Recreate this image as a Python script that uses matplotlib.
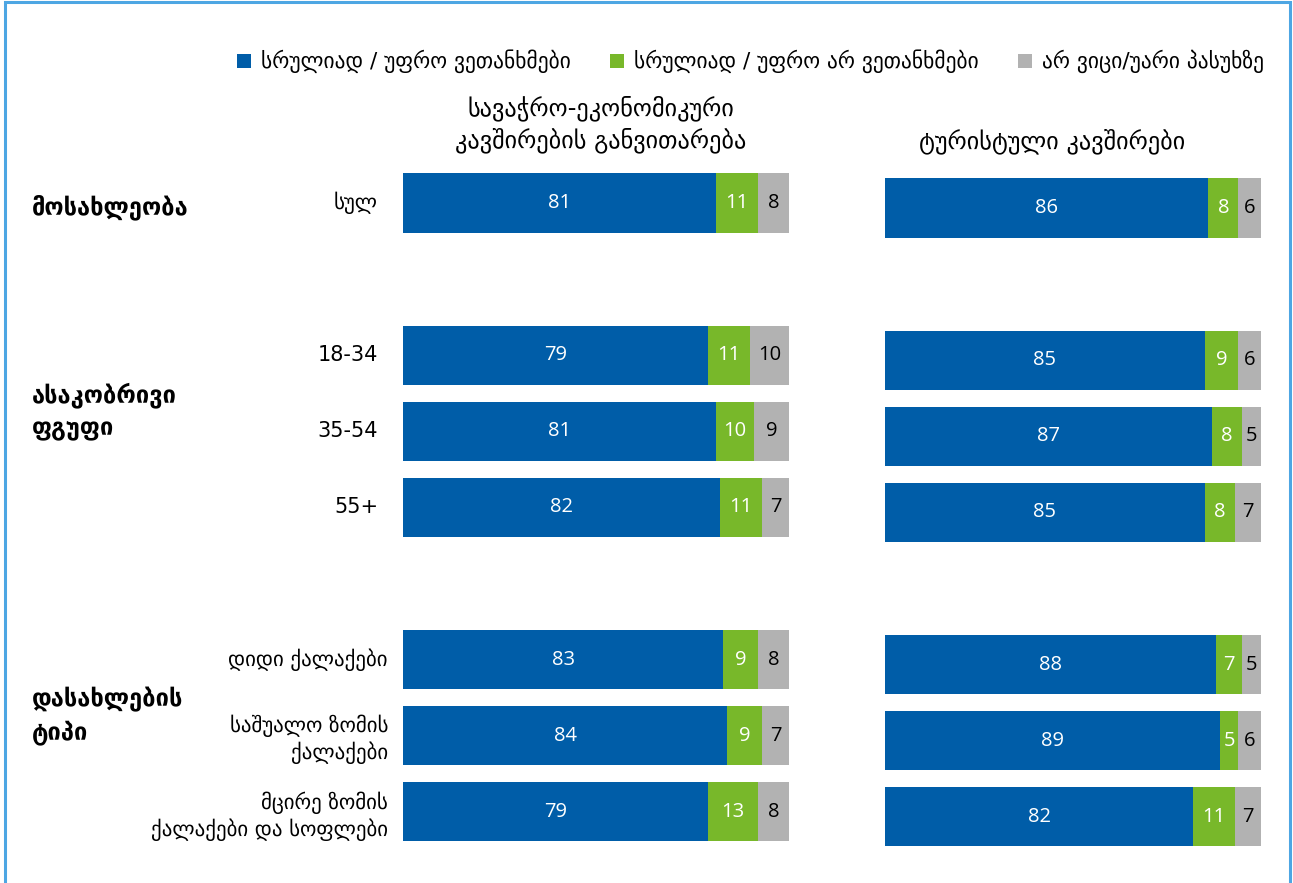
import matplotlib
matplotlib.use("Agg")
import matplotlib.pyplot as plt
from matplotlib.patches import Rectangle
import numpy as np

# ---------------- data ----------------
series_names = ["სრულიად / უფრო ვეთანხმები",
                "სრულიად / უფრო არ ვეთანხმები",
                "არ ვიცი/უარი პასუხზე"]
panel_titles = ["სავაჭრო-ეკონომიკური\nკავშირების განვითარება",
                "ტურისტული კავშირები"]
group_names = ["მოსახლეობა", "ასაკობრივი\nფგუფი", "დასახლების\nტიპი"]
group_sizes = [1, 3, 3]
categories = ["სულ", "18-34", "35-54", "55+",
              "დიდი ქალაქები", "საშუალო ზომის\nქალაქები",
              "მცირე ზომის\nქალაქები და სოფლები"]

econ_agree = [81, 79, 81, 82, 83, 84, 79]
econ_disagree = [11, 11, 10, 11, 9, 9, 13]
econ_dk = [8, 10, 9, 7, 8, 7, 8]

tour_agree = [86, 85, 87, 85, 88, 89, 82]
tour_disagree = [8, 9, 8, 8, 7, 5, 11]
tour_dk = [6, 6, 5, 7, 5, 6, 7]

# ---------------- style ----------------
BLUE = "#005DA8"
GREEN = "#78B82A"
GRAY = "#B2B2B2"
BORDER = "#4DA6E3"
colors = [BLUE, GREEN, GRAY]
label_colors = ["white", "white", "black"]
GEO = ["DejaVu Sans"]
NUM = ["Open Sans", "DejaVu Sans"]

W, H = 1293, 883
fig = plt.figure(figsize=(W / 100, H / 100), dpi=100)


def rect(x0, y0, x1, y1):
    return [x0 / W, 1 - y1 / H, (x1 - x0) / W, (y1 - y0) / H]


def ftext(x, y, s, **kw):
    fig.text(x / W, 1 - y / H, s, **kw)


# border around the figure
fig.patches.append(Rectangle((5 / W, -0.05), (1290 - 5) / W, 1.05 - 2 / H,
                             transform=fig.transFigure, fill=False,
                             edgecolor=BORDER, linewidth=2.2))

# slot positions: groups separated by one empty slot
positions = []
group_centers = []
pos = 0
for gs in group_sizes:
    block = list(range(pos, pos + gs))
    positions.extend(block)
    group_centers.append(np.mean(block))
    pos += gs + 1
positions = np.array(positions, dtype=float)

SLOT = 76.1
BAR_H = 0.78


def draw_panel(x0, x1, yc0, vals, show_labels):
    top = yc0 - 0.5 * SLOT
    bottom = yc0 + 8.5 * SLOT
    ax = fig.add_axes(rect(x0, top, x1, bottom))
    ax.set_xlim(0, 100)
    ax.set_ylim(8.5, -0.5)
    left = np.zeros(len(positions))
    for k, v in enumerate(vals):
        v = np.array(v, dtype=float)
        ax.barh(positions, v, left=left, height=BAR_H, color=colors[k],
                edgecolor="none")
        for p, l, w in zip(positions, left, v):
            ax.text(l + w / 2, p, f"{int(w)}", ha="center", va="center",
                    color=label_colors[k], fontsize=14.5, family=NUM)
        left = left + v
    for s in ax.spines.values():
        s.set_visible(False)
    ax.set_xticks([])
    ax.set_yticks([])
    if show_labels:
        for p, cat in zip(positions, categories):
            pad = 15 if " " in cat else 25
            dy = 4 if "\n" in cat else 0
            ax.annotate(cat, xy=(0, p), xycoords=ax.get_yaxis_transform(),
                        xytext=(-pad, -dy), textcoords="offset pixels",
                        ha="right", va="center", family=GEO, fontsize=15,
                        linespacing=1.25)
    return ax


axL = draw_panel(403, 789, 203, [econ_agree, econ_disagree, econ_dk], True)
axR = draw_panel(885, 1261, 208, [tour_agree, tour_disagree, tour_dk], False)

# panel titles
ftext(601, 124, panel_titles[0], ha="center", va="center", fontsize=17.5,
      family=GEO, linespacing=1.3)
ftext(1052, 141, panel_titles[1], ha="center", va="center", fontsize=17.5,
      family=GEO)

# group labels (multi-line labels sit a bit above the group centre)
for gname, gc in zip(group_names, group_centers):
    y = 203 + gc * SLOT + (4 if "\n" not in gname else -20)
    ftext(32, y, gname, ha="left", va="center", fontsize=17,
          fontweight="bold", family=GEO, linespacing=1.4)

# legend
legend_x = [237, 610, 1018]
for xx, name, c in zip(legend_x, series_names, colors):
    fig.patches.append(Rectangle((xx / W, 1 - 68 / H), 14 / W, 14 / H,
                                 transform=fig.transFigure, facecolor=c,
                                 edgecolor="none"))
    ftext(xx + 24, 61, name, ha="left", va="center", fontsize=15.5,
          family=GEO)

fig.savefig("out.png", dpi=100, facecolor="white")
